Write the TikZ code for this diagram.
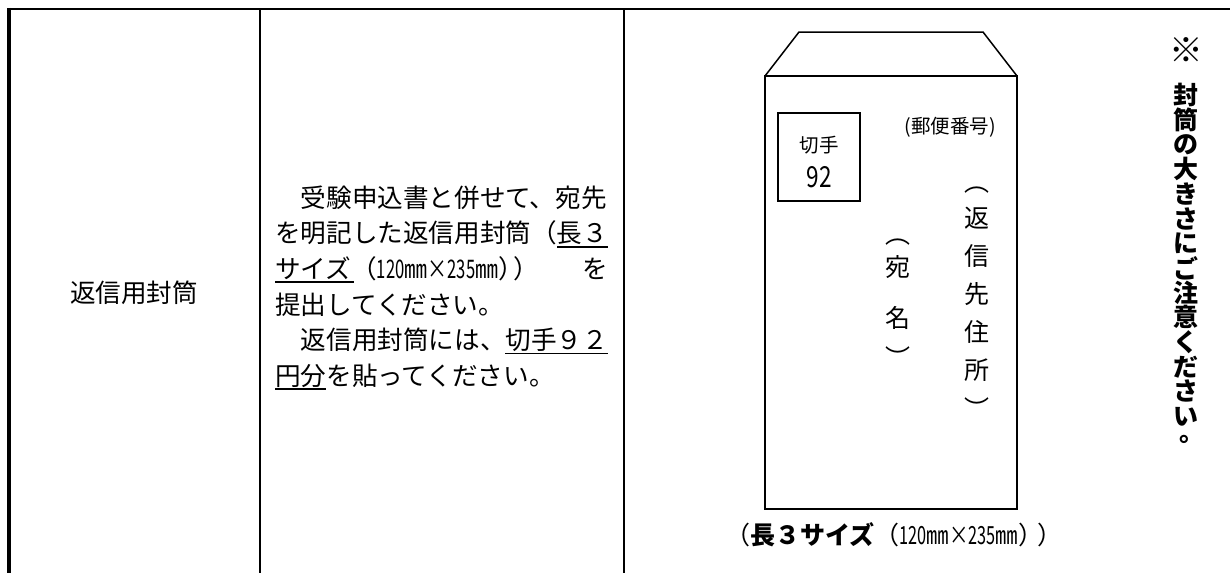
\documentclass[tikz,border=0pt]{standalone}
\usepackage{fontspec}
\usepackage{graphicx}
\newfontfamily\jp{Noto Sans CJK JP}
\newcommand\narrowdig[1]{\scalebox{0.65}[1]{#1}}
\newcommand\narrowmm{\scalebox{0.9}[1]{㎜}}
\newcommand\narrowx{\scalebox{0.78}[1]{×}}
\begin{document}
\begin{tikzpicture}[x=1pt,y=-1pt,
  frameline/.style={line width=2.2pt},
  leftline/.style={line width=4.3pt},
  colline/.style={line width=2pt},
  envline/.style={line width=1.5pt, line join=miter},
  stampline/.style={line width=1.3pt},
  uline/.style={line width=1.8pt},
  txt/.style={inner sep=0pt, font=\jp\fontsize{25.6}{30}\selectfont},
  captxt/.style={inner sep=0pt, font=\jp\fontsize{25}{30}\selectfont},
  smalltxt/.style={inner sep=0pt, font=\jp\fontsize{19.5}{24}\selectfont},
  digtxt/.style={inner sep=0pt, font=\jp\fontsize{29}{32}\selectfont},
  vchar/.style={inner sep=0pt, font=\jp\fontsize{25}{30}\selectfont},
  note/.style={inner sep=0pt, font=\jp\bfseries\fontsize{25}{28}\selectfont}]
\useasboundingbox (0,0) rectangle (1230,573);
% table frame
\draw[frameline] (7,9) -- (1230,9);
\draw[leftline] (8.8,7.9) -- (8.8,573);
\draw[colline] (260,9) -- (260,573);
\draw[colline] (624,9) -- (624,573);
% column 1
\node[txt] (c1) at (134,293) {返信用封筒};
% column 2
\node[txt, anchor=base west] (l1) at (275,207.2) {　受験申込書と併せて、宛先};
\node[txt, anchor=base west] (l2) at (275,242.8) {を明記した返信用封筒（長３};
\node[txt, anchor=base west] (l3) at (275,278.4) {サイズ（\narrowdig{120}\narrowmm\narrowx\narrowdig{235}\narrowmm）\hspace{-10pt}）};
\node[txt, anchor=base east] (l3b) at (608,278.4) {を};
\node[txt, anchor=base west] (l4) at (275,314) {提出してください。};
\node[txt, anchor=base west] (l5) at (275,349.6) {　返信用封筒には、切手９２};
\node[txt, anchor=base west] (l6) at (275,385.2) {円分を貼ってください。};
\draw[uline] (557,246.6) -- (608,246.6);
\draw[uline] (275,282.2) -- (354,282.2);
\draw[uline] (505.4,353.4) -- (608,353.4);
\draw[uline] (275,389) -- (326,389);
% envelope
\draw[envline] (765,76) rectangle (1017,509);
\draw[envline] (765,76) -- (799,32) -- (983,32) -- (1017,76);
\draw[stampline] (778,113) rectangle (860,201);
\node[smalltxt] (st1) at (819,145) {切手};
\node[digtxt] (st2) at (819,177) {\scalebox{0.78}[1]{92}};
\node[smalltxt] (zip) at (950,127) {(郵便番号)};
\foreach \ch/\yy [count=\i] in {︵/190,返/218,信/256,先/294,住/332,所/370,︶/408}
  \node[vchar] (ra\i) at (977,\yy) {\ch};
\foreach \ch/\yy [count=\i] in {︵/242,宛/267,名/318,︶/357}
  \node[vchar] (na\i) at (898,\yy) {\ch};
\node[captxt, anchor=base west] (cap) at (725,544.6) {（{\bfseries 長３サイズ}（\narrowdig{120}\narrowmm\narrowx\narrowdig{235}\narrowmm）\hspace{-6pt}）};
% right note
\node[note] (nm) at (1186,50) {\scalebox{1.35}{※}};
\foreach \ch [count=\i from 0] in {封,筒,の,大,き,さ,に,ご,注,意,く,だ,さ}
  \node[note] (n\i) at (1186,{95+\i*24.7}) {\ch};
\node[note, align=center, anchor=base] (nend) at (1186,441.6) {い\\[-12pt]\hspace*{12pt}。};
\end{tikzpicture}
\end{document}
